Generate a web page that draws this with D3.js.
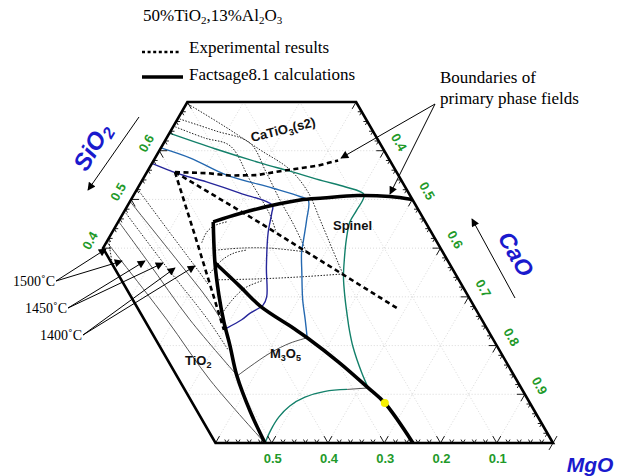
<!DOCTYPE html>
<html>
<head>
<meta charset="utf-8">
<script src="https://cdn.jsdelivr.net/npm/d3@7/dist/d3.min.js"></script>
<style>
  html, body { margin: 0; padding: 0; background: #fff; }
  svg { display: block; }
</style>
</head>
<body>
<svg id="chart" width="623" height="476"></svg>
<script>
// Every composition is [CaO, SiO2] (mass fraction); MgO = 1 - CaO - SiO2.
// Section at 50% TiO2, 13% Al2O3.

const plotWindow = [[1, 0], [0.3, 0.7], [0, 0.7], [0, 0.4], [0.4, 0]];

const mgoTickLabels = [0.1, 0.2, 0.3, 0.4, 0.5];
const caoTickLabels = [0.4, 0.5, 0.6, 0.7, 0.8, 0.9];
const sio2TickLabels = [0.4, 0.5, 0.6];

// FactSage 8.1 primary phase boundaries
const fsBoundaryCaTiO3 = [[0.169, 0.454], [0.208, 0.471], [0.254, 0.487], [0.301, 0.499], [0.340, 0.503], [0.398, 0.508], [0.457, 0.506], [0.500, 0.500]];
const fsBoundaryTiO2 = [[0.169, 0.454], [0.214, 0.370], [0.254, 0.304], [0.291, 0.248], [0.325, 0.201], [0.369, 0.138], [0.430, 0.064], [0.488, 0]];
const fsBoundarySpinel = [[0.214, 0.370], [0.282, 0.322], [0.339, 0.281], [0.420, 0.236], [0.455, 0.216], [0.539, 0.164], [0.615, 0.113], [0.660, 0.082], [0.751, 0]];

// Experimental primary phase boundaries
const expBoundaryCaTiO3 = [[0.050, 0.556], [0.108, 0.554], [0.151, 0.549], [0.199, 0.550], [0.236, 0.558], [0.268, 0.564], [0.296, 0.569], [0.328, 0.580]];
const expBoundaryTiO2 = [[0.050, 0.556], [0.162, 0.411], [0.299, 0.232]];
const expBoundarySpinel = [[0.050, 0.556], [0.253, 0.452], [0.584, 0.277]];

// FactSage isotherms, coloured parts
const fs1500 = [[0, 0.636], [0.097, 0.604], [0.192, 0.575], [0.253, 0.558], [0.322, 0.538], [0.367, 0.526], [0.409, 0.510],
  [0.412, 0.478], [0.412, 0.454], [0.424, 0.417], [0.441, 0.376], [0.457, 0.341], [0.480, 0.300], [0.505, 0.259],
  [0.522, 0.232], [0.546, 0.197], [0.588, 0.144], [0.615, 0.113]];
const fs1500Bottom = [[0.579, 0.110], [0.542, 0.106], [0.512, 0.094], [0.494, 0.076], [0.486, 0.053], [0.485, 0.027], [0.488, 0]];
const fs1450 = [[0, 0.606], [0.063, 0.585], [0.145, 0.550], [0.241, 0.523], [0.297, 0.506], [0.316, 0.498],
  [0.333, 0.458], [0.348, 0.417], [0.358, 0.390], [0.379, 0.349], [0.408, 0.294], [0.433, 0.253], [0.455, 0.216]];
const fs1400 = [[0, 0.574], [0.054, 0.554], [0.116, 0.536], [0.187, 0.513], [0.257, 0.488],
  [0.264, 0.472], [0.278, 0.431], [0.310, 0.361], [0.341, 0.300], [0.343, 0.283], [0.328, 0.266], [0.320, 0.253], [0.302, 0.236]];

// FactSage isotherms, grey parts (TiO2 and M3O5 fields)
const fsGrey = [
  [[0.615, 0.113], [0.579, 0.110]],
  [[0.455, 0.216], [0.430, 0.205], [0.405, 0.185], [0.383, 0.157], [0.370, 0.138]],
  [[0, 0.413], [0.048, 0.372], [0.187, 0.253], [0.326, 0.129], [0.488, 0]],
  [[0, 0.455], [0.094, 0.372], [0.228, 0.253], [0.370, 0.138]],
  [[0, 0.496], [0.148, 0.372], [0.240, 0.294], [0.297, 0.240]]
];

// Experimental isotherms (dotted)
const expIsotherms = [
  // CaTiO3 and spinel fields
  [[0.003, 0.696], [0.093, 0.649], [0.178, 0.602], [0.252, 0.561], [0.307, 0.515], [0.357, 0.458], [0.407, 0.400], [0.453, 0.347]],
  [[0.004, 0.665], [0.079, 0.641], [0.153, 0.616], [0.212, 0.556], [0.265, 0.499], [0.317, 0.446], [0.366, 0.392]],
  [[0.004, 0.649], [0.068, 0.626], [0.121, 0.610], [0.191, 0.540], [0.263, 0.468], [0.291, 0.433]],
  // between the experimental TiO2 and spinel boundaries
  [[0.453, 0.347], [0.380, 0.341], [0.311, 0.337], [0.235, 0.335]],
  [[0.366, 0.392], [0.297, 0.400], [0.243, 0.400], [0.204, 0.396]],
  [[0.170, 0.411], [0.168, 0.433], [0.175, 0.446], [0.193, 0.454]],
  [[0.216, 0.349], [0.224, 0.376], [0.238, 0.390], [0.257, 0.396]],
  [[0.278, 0.261], [0.283, 0.294], [0.293, 0.318], [0.316, 0.333]],
  // TiO2 field
  [[0, 0.421], [0.012, 0.400], [0.030, 0.372]],
  [[0, 0.476], [0.122, 0.370], [0.260, 0.253], [0.327, 0.191]],
  [[0, 0.522], [0.097, 0.437], [0.182, 0.363], [0.226, 0.324]]
];

const liquidusPoint = [0.660, 0.082];

// ---------------------------------------------------------------
const SQ3 = Math.sqrt(3);
const svg = d3.select("#chart");
const xScale = d3.scaleLinear().domain([0, 1]).range([-9.5, 553]);
const yScale = d3.scaleLinear().domain([0, SQ3 / 2]).range([443, 443 - 562.5 * SQ3 / 2]);
const project = d => [xScale(d[0] + d[1] / 2), yScale(d[1] * SQ3 / 2)];

const straight = d3.line().x(d => project(d)[0]).y(d => project(d)[1]);
const smooth = d3.line().x(d => project(d)[0]).y(d => project(d)[1]).curve(d3.curveCatmullRom.alpha(0.5));

const defs = svg.append("defs");
defs.append("clipPath").attr("id", "window").append("path").attr("d", straight(plotWindow) + "Z");
defs.append("marker").attr("id", "head").attr("viewBox", "0 0 10 10").attr("refX", 9).attr("refY", 5)
  .attr("markerWidth", 10).attr("markerHeight", 8).attr("markerUnits", "userSpaceOnUse").attr("orient", "auto")
  .append("path").attr("d", "M0,0L10,5L0,10Z").attr("fill", "#000");

// faint composition grid
const grid = svg.append("g").attr("clip-path", "url(#window)").attr("fill", "none")
  .attr("stroke", "#cfcfcf").attr("stroke-width", 0.8).attr("stroke-dasharray", "1,2");
d3.range(1, 10).forEach(k => {
  const v = k / 10;
  grid.append("path").attr("d", straight([[0, v], [1 - v, v]]));
  grid.append("path").attr("d", straight([[v, 0], [v, 1 - v]]));
  grid.append("path").attr("d", straight([[1 - v, 0], [0, 1 - v]]));
});

// isotherms
const plot = svg.append("g").attr("fill", "none").attr("clip-path", "url(#window)");
fsGrey.forEach(p => plot.append("path").attr("d", smooth(p)).attr("stroke", "#555").attr("stroke-width", 1));
expIsotherms.forEach(p => plot.append("path").attr("d", smooth(p)).attr("stroke", "#222")
  .attr("stroke-width", 1).attr("stroke-dasharray", "1.5,1.5"));
plot.append("path").attr("d", smooth(fs1500)).attr("stroke", "#13806a").attr("stroke-width", 1.4);
plot.append("path").attr("d", smooth(fs1500Bottom)).attr("stroke", "#13806a").attr("stroke-width", 1.4);
plot.append("path").attr("d", smooth(fs1450)).attr("stroke", "#2468b0").attr("stroke-width", 1.4);
plot.append("path").attr("d", smooth(fs1400)).attr("stroke", "#26269a").attr("stroke-width", 1.4);

// boundaries
[expBoundaryCaTiO3, expBoundaryTiO2, expBoundarySpinel].forEach(p =>
  plot.append("path").attr("d", straight(p)).attr("stroke", "#000").attr("stroke-width", 2.6).attr("stroke-dasharray", "5,3.5"));
[fsBoundaryCaTiO3, fsBoundaryTiO2, fsBoundarySpinel].forEach(p =>
  plot.append("path").attr("d", smooth(p)).attr("stroke", "#000").attr("stroke-width", 3.6).attr("stroke-linejoin", "round"));

svg.append("circle").attr("cx", project(liquidusPoint)[0]).attr("cy", project(liquidusPoint)[1]).attr("r", 4).attr("fill", "#f5f000");

// frame
svg.append("path").attr("d", straight(plotWindow) + "Z").attr("fill", "none").attr("stroke", "#000").attr("stroke-width", 2.6).attr("stroke-linejoin", "miter");

// V-shaped ticks
const ticks = svg.append("g").attr("stroke", "#000").attr("stroke-width", 0.9);
const isMajor = v => Math.abs(v * 10 - Math.round(v * 10)) < 1e-6;
function vTick(d, dirs, len) {
  const [px, py] = project(d);
  dirs.forEach(([dx, dy]) => ticks.append("line").attr("x1", px).attr("y1", py).attr("x2", px + dx * len).attr("y2", py + dy * len));
}
d3.range(0, 31).map(i => i * 0.02).forEach(m => vTick([1 - m, 0], [[-0.5, -SQ3 / 2], [0.5, -SQ3 / 2]], isMajor(m) ? 8 : 4));
d3.range(15, 51).map(i => i * 0.02).forEach(c => vTick([c, 1 - c], [[-1, 0], [-0.5, SQ3 / 2]], isMajor(c) ? 8 : 4));
d3.range(20, 36).map(i => i * 0.02).forEach(s => vTick([0, s], [[1, 0], [0.5, SQ3 / 2]], isMajor(s) ? 8 : 4));

// tick labels
const green = "#1f9a2a";
const tl = svg.append("g").attr("fill", green).attr("font-family", "Liberation Sans, Arial, sans-serif")
  .attr("font-weight", "bold").attr("font-size", 13).attr("text-anchor", "middle").attr("dominant-baseline", "central");
mgoTickLabels.forEach(m => {
  const [px, py] = project([1 - m, 0]);
  tl.append("text").attr("x", px + 1).attr("y", py + 15).text(m.toFixed(1));
});
caoTickLabels.forEach(c => {
  const [px, py] = project([c, 1 - c]);
  const lx = px + 17 * SQ3 / 2, ly = py - 17 * 0.5;
  tl.append("text").attr("transform", `translate(${lx},${ly}) rotate(60)`).text(c.toFixed(1));
});
sio2TickLabels.forEach(s => {
  const [px, py] = project([0, s]);
  const lx = px - 15 * SQ3 / 2, ly = py - 15 * 0.5;
  tl.append("text").attr("transform", `translate(${lx},${ly}) rotate(-60)`).text(s.toFixed(1));
});

// component names
const blue = "#1a1acd";
function compName(g, main, sub) {
  const t = g.append("text");
  t.append("tspan").text(main);
  if (sub) t.append("tspan").attr("font-size", "0.68em").attr("dy", "0.3em").text(sub);
  return t;
}
const names = svg.append("g").attr("fill", blue).attr("font-family", "Liberation Sans, Arial, sans-serif")
  .attr("font-weight", "bold").attr("font-style", "italic").attr("font-size", 24).attr("text-anchor", "middle");
compName(names.append("g").attr("transform", "translate(99,151) rotate(-60)"), "SiO", "2");
compName(names.append("g").attr("transform", "translate(509,258) rotate(60)"), "CaO").attr("font-size", 23);
compName(names.append("g").attr("transform", "translate(590,472)"), "MgO").attr("font-size", 21);

const arrows = svg.append("g").attr("stroke", "#000").attr("stroke-width", 1).attr("fill", "none");
arrows.append("line").attr("x1", 139).attr("y1", 117).attr("x2", 88).attr("y2", 190).attr("marker-end", "url(#head)");
arrows.append("line").attr("x1", 515).attr("y1", 298).attr("x2", 472).attr("y2", 219).attr("marker-end", "url(#head)");

// annotation arrows
arrows.append("line").attr("x1", 435).attr("y1", 104).attr("x2", 341).attr("y2", 158).attr("marker-end", "url(#head)");
arrows.append("line").attr("x1", 435).attr("y1", 104).attr("x2", 390).attr("y2", 194).attr("marker-end", "url(#head)");
const tempArrows = [
  { label: "1500˚C", from: [56, 281], to: [[106, 249], [122, 261]] },
  { label: "1450˚C", from: [68, 308], to: [[145, 261], [163, 263]] },
  { label: "1400˚C", from: [83, 335], to: [[175, 268], [195, 266]] }
];
tempArrows.forEach(a => a.to.forEach(t => arrows.append("line").attr("x1", a.from[0]).attr("y1", a.from[1])
  .attr("x2", t[0]).attr("y2", t[1]).attr("marker-end", "url(#head)")));

const serif = svg.append("g").attr("font-family", "Liberation Serif, Times New Roman, serif").attr("fill", "#000");
tempArrows.forEach(a => serif.append("text").attr("x", a.from[0] - 1).attr("y", a.from[1] + 5)
  .attr("text-anchor", "end").attr("font-size", 14).text(a.label));

// title and legend
const title = serif.append("text").attr("x", 143).attr("y", 21).attr("font-size", 17);
[["50%TiO", false], ["2", true], [",13%Al", false], ["2", true], ["O", false], ["3", true]].forEach(([t, sub]) => {
  const ts = title.append("tspan").text(t);
  if (sub) ts.attr("font-size", 11).attr("dy", 3); else ts.attr("dy", title.selectAll("tspan").size() > 1 ? -3 : 0);
});
svg.append("line").attr("x1", 142).attr("x2", 180).attr("y1", 52).attr("y2", 52).attr("stroke", "#000").attr("stroke-width", 2.4).attr("stroke-dasharray", "3,2.6");
svg.append("line").attr("x1", 142).attr("x2", 183).attr("y1", 77).attr("y2", 77).attr("stroke", "#000").attr("stroke-width", 3.6);
serif.append("text").attr("x", 189).attr("y", 53).attr("font-size", 17).text("Experimental results");
serif.append("text").attr("x", 189).attr("y", 80).attr("font-size", 17).text("Factsage8.1 calculations");
serif.append("text").attr("x", 440).attr("y", 83).attr("font-size", 17).text("Boundaries of");
serif.append("text").attr("x", 440).attr("y", 104).attr("font-size", 17).text("primary phase fields");

// phase field names
const fields = svg.append("g").attr("font-family", "Liberation Sans, Arial, sans-serif").attr("font-weight", "bold")
  .attr("font-size", 13).attr("fill", "#111");
function fieldName(x, y, rot, parts) {
  const t = fields.append("text").attr("transform", `translate(${x},${y}) rotate(${rot})`);
  parts.forEach(([s, sub], i) => {
    const ts = t.append("tspan").text(s);
    if (sub) ts.attr("font-size", 9).attr("dy", 3);
    else if (i > 0 && parts[i - 1][1]) ts.attr("dy", -3);
  });
}
fieldName(252, 142, -14, [["CaTiO", false], ["3", true], ["(s2)", false]]);
fieldName(333, 230, 0, [["Spinel", false]]);
fieldName(185, 365, 0, [["TiO", false], ["2", true]]);
fieldName(270, 358, 0, [["M", false], ["3", true], ["O", false], ["5", true]]);
</script>
</body>
</html>
